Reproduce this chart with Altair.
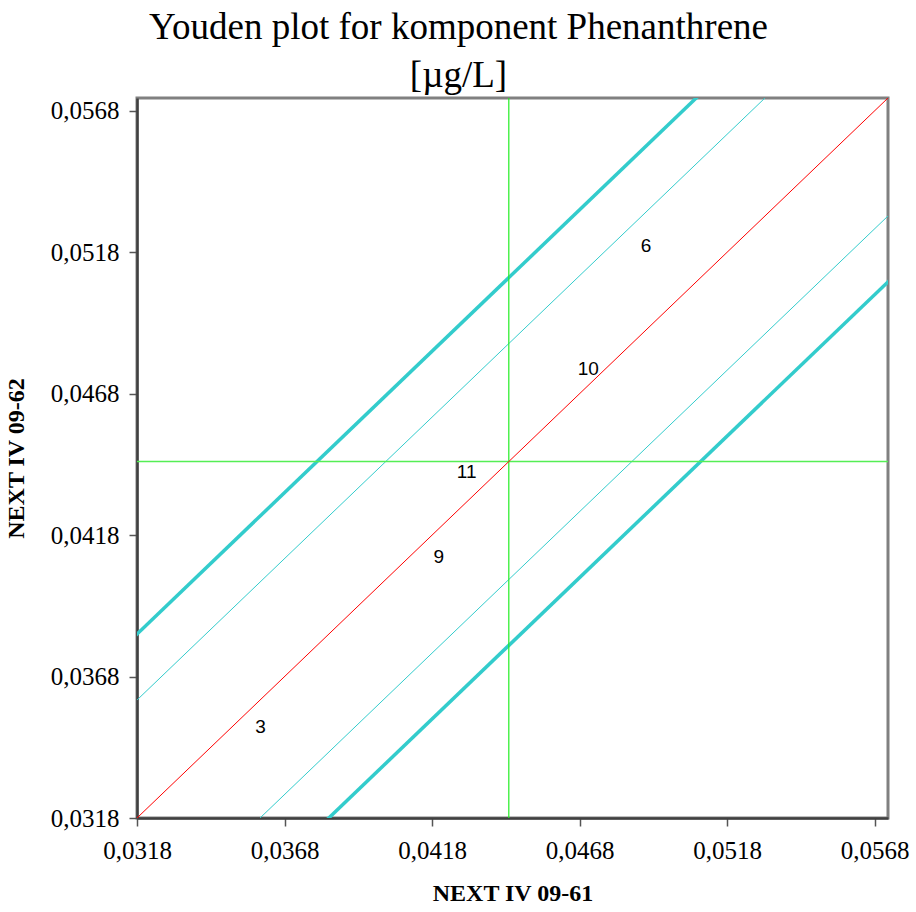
import altair as alt
import pandas as pd

# Axis domain / ticks
x_min, x_max = 0.0318, 0.05725
y_min, y_max = 0.0318, 0.05725
tick_values = [0.0318, 0.0368, 0.0418, 0.0468, 0.0518, 0.0568]

# Centre (medians)
center_x = 0.0444
center_y = 0.0444

# Diagonal lines: offset from y = x
thin_offsets = [0.00417, -0.00417]
thick_offsets = [0.0065, -0.0065]

# Labelled laboratories
lab_ids = ["3", "9", "11", "10", "6"]
lab_x = [0.03599, 0.04203, 0.04297, 0.04709, 0.04905]
lab_y = [0.03501, 0.04104, 0.04404, 0.04766, 0.05203]

ext = 0.01
def diag(off, kind):
    return [{"x": x_min - ext, "y": x_min - ext + off, "kind": kind, "id": f"{kind}{off}"},
            {"x": x_max + ext, "y": x_max + ext + off, "kind": kind, "id": f"{kind}{off}"}]

rows = diag(0.0, "red")
for o in thin_offsets:
    rows += diag(o, "thin")
for o in thick_offsets:
    rows += diag(o, "thick")
lines_df = pd.DataFrame(rows)

xs = alt.Scale(domain=[x_min, x_max], nice=False, zero=False)
ys = alt.Scale(domain=[y_min, y_max], nice=False, zero=False)

label_expr = "replace(format(datum.value, '.4f'), '.', ',')"

x_axis = alt.Axis(values=tick_values, labelExpr=label_expr, grid=False,
                  title="NEXT IV 09-61", titleFont="Liberation Serif", titleFontSize=24,
                  titleFontWeight="bold", titleColor="black", titlePadding=18,
                  labelFont="Liberation Serif", labelFontSize=25, labelColor="black",
                  labelPadding=12, tickSize=8, tickColor="#555555", tickWidth=1.5,
                  domainColor="#404040", domainWidth=2.5, labelFlush=False)
y_axis = alt.Axis(values=tick_values, labelExpr=label_expr, grid=False,
                  title="NEXT IV 09-62", titleFont="Liberation Serif", titleFontSize=24,
                  titleFontWeight="bold", titleColor="black", titlePadding=22,
                  labelFont="Liberation Serif", labelFontSize=25, labelColor="black",
                  labelPadding=10, tickSize=8, tickColor="#555555", tickWidth=1.5,
                  domainColor="#404040", domainWidth=2.5, labelFlush=False)

X = lambda f: alt.X(f, scale=xs, axis=x_axis)
Y = lambda f: alt.Y(f, scale=ys, axis=y_axis)

def line_layer(kind, color, width):
    return alt.Chart(lines_df).transform_filter(alt.datum.kind == kind).mark_line(
        color=color, strokeWidth=width, clip=True
    ).encode(x=X("x:Q"), y=Y("y:Q"), detail="id:N")

red = line_layer("red", "#FF0000", 1)
thin = line_layer("thin", "#33CCCC", 1)
thick = line_layer("thick", "#33CCCC", 3.5)

vrule = alt.Chart(pd.DataFrame({"x": [center_x]})).mark_rule(color="#22EE22", strokeWidth=1.2).encode(
    x=X("x:Q"))
hrule = alt.Chart(pd.DataFrame({"y": [center_y]})).mark_rule(color="#55EE55", strokeWidth=1.6).encode(
    y=Y("y:Q"))

labs = alt.Chart(pd.DataFrame({"x": lab_x, "y": lab_y, "id": lab_ids})).mark_text(
    font="Liberation Sans", fontSize=19, color="black", align="center", baseline="middle"
).encode(x=X("x:Q"), y=Y("y:Q"), text="id:N")

chart = alt.layer(thick, thin, vrule, hrule, red, labs).properties(
    width=751, height=720,
    background="white",
    title=alt.TitleParams(
        text=["Youden plot for komponent Phenanthrene", "[µg/L]"],
        font="Liberation Serif", fontSize=37, fontWeight="normal", color="black",
        lineHeight=48, anchor="middle", dx=-54, offset=2),
    autosize=alt.AutoSizeParams(type="none"),
    padding={"left": 137, "top": 98, "right": 28, "bottom": 94},
).configure_view(stroke="#808080", strokeWidth=3)

chart.save("out.html", embed_options={"renderer": "svg", "actions": False})
